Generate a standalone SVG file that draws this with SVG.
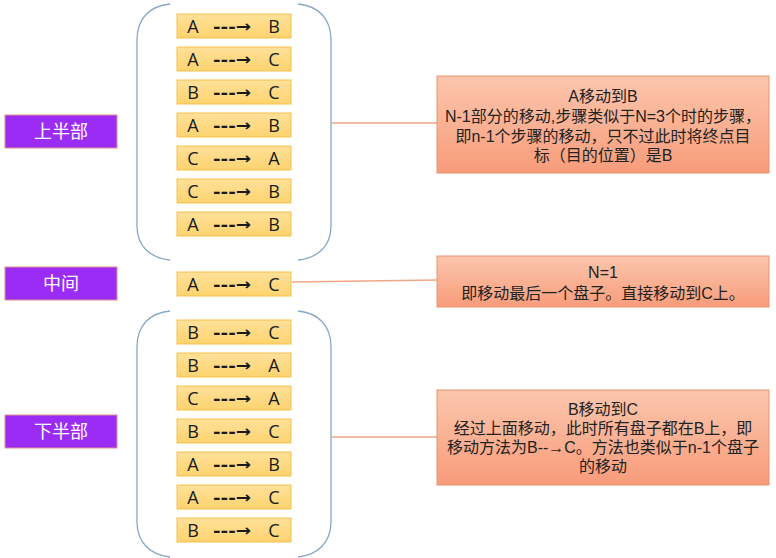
<svg xmlns="http://www.w3.org/2000/svg" width="776" height="558" viewBox="0 0 776 558">
<defs>
<linearGradient id="gY" x1="0" y1="0" x2="0" y2="1"><stop offset="0" stop-color="#ffe19a"/><stop offset="1" stop-color="#fdd36f"/></linearGradient>
<linearGradient id="gO" x1="0" y1="0" x2="0" y2="1"><stop offset="0" stop-color="#fcc6ad"/><stop offset="1" stop-color="#f79c7a"/></linearGradient>
</defs>
<style>
.step rect{fill:url(#gY);stroke:#f3c14c;stroke-width:1}
.step text{font-family:"Open Sans","Liberation Sans",sans-serif;font-size:18px;fill:#1a1a1a;text-anchor:middle}
.step text.ar{text-anchor:start;font-family:"DejaVu Sans",sans-serif;font-size:16px;font-weight:bold}
.lab rect{fill:#9b2cf6;stroke:#e0908a;stroke-width:1}
.lab text{font-family:"Noto Sans CJK SC",sans-serif;font-size:18px;fill:#fff;text-anchor:middle}
.note rect{fill:url(#gO);stroke:#e89470;stroke-width:1}
.note text{font-family:"Liberation Sans","Noto Sans CJK SC",sans-serif;font-size:16px;fill:#222;text-anchor:middle}
.br{fill:none;stroke:#8aa6c6;stroke-width:1.3}
.cn{fill:none;stroke:#efa686;stroke-width:1.5}
</style>

<g id="brackets">
<path class="br" d="M170,4 C150,6 137,18 137,40 L137,226 C137,246 150,258 170,260"/>
<path class="br" d="M298,4 C318,6 331,18 331,40 L331,226 C331,246 318,258 298,260"/>
<path class="br" d="M170,311 C150,313 137,325 137,347 L137,522 C137,542 150,555 170,557"/>
<path class="br" d="M298,311 C318,313 331,325 331,347 L331,522 C331,542 318,555 298,557"/>
</g>

<g id="connectors">
<line class="cn" x1="331" y1="123" x2="437" y2="123"/>
<line class="cn" x1="292" y1="282" x2="437" y2="280"/>
<line class="cn" x1="331" y1="437" x2="437" y2="437"/>
</g>

<g id="label-top" class="lab"><rect x="5" y="115" width="112" height="33"/><text x="61" y="138">上半部</text></g>
<g id="label-mid" class="lab"><rect x="5" y="267" width="112" height="33"/><text x="61" y="290">中间</text></g>
<g id="label-bot" class="lab"><rect x="5" y="415" width="112" height="33"/><text x="61" y="438">下半部</text></g>

<g id="top-steps">
<g id="s1" class="step"><rect x="177" y="14" width="114" height="24"/><text x="193" y="33">A</text><text class="ar" x="213" y="32" textLength="38" lengthAdjust="spacingAndGlyphs">---→</text><text x="274" y="33">B</text></g>
<g id="s2" class="step"><rect x="177" y="47" width="114" height="24"/><text x="193" y="66">A</text><text class="ar" x="213" y="65" textLength="38" lengthAdjust="spacingAndGlyphs">---→</text><text x="274" y="66">C</text></g>
<g id="s3" class="step"><rect x="177" y="80" width="114" height="24"/><text x="193" y="99">B</text><text class="ar" x="213" y="98" textLength="38" lengthAdjust="spacingAndGlyphs">---→</text><text x="274" y="99">C</text></g>
<g id="s4" class="step"><rect x="177" y="113" width="114" height="24"/><text x="193" y="132">A</text><text class="ar" x="213" y="131" textLength="38" lengthAdjust="spacingAndGlyphs">---→</text><text x="274" y="132">B</text></g>
<g id="s5" class="step"><rect x="177" y="146" width="114" height="24"/><text x="193" y="165">C</text><text class="ar" x="213" y="164" textLength="38" lengthAdjust="spacingAndGlyphs">---→</text><text x="274" y="165">A</text></g>
<g id="s6" class="step"><rect x="177" y="179" width="114" height="24"/><text x="193" y="198">C</text><text class="ar" x="213" y="197" textLength="38" lengthAdjust="spacingAndGlyphs">---→</text><text x="274" y="198">B</text></g>
<g id="s7" class="step"><rect x="177" y="212" width="114" height="24"/><text x="193" y="231">A</text><text class="ar" x="213" y="230" textLength="38" lengthAdjust="spacingAndGlyphs">---→</text><text x="274" y="231">B</text></g>
</g>

<g id="mid-step" class="step"><rect x="177" y="272" width="114" height="24"/><text x="193" y="291">A</text><text class="ar" x="213" y="290" textLength="38" lengthAdjust="spacingAndGlyphs">---→</text><text x="274" y="291">C</text></g>

<g id="bot-steps">
<g id="b1" class="step"><rect x="177" y="320" width="114" height="24"/><text x="193" y="339">B</text><text class="ar" x="213" y="338" textLength="38" lengthAdjust="spacingAndGlyphs">---→</text><text x="274" y="339">C</text></g>
<g id="b2" class="step"><rect x="177" y="353" width="114" height="24"/><text x="193" y="372">B</text><text class="ar" x="213" y="371" textLength="38" lengthAdjust="spacingAndGlyphs">---→</text><text x="274" y="372">A</text></g>
<g id="b3" class="step"><rect x="177" y="386" width="114" height="24"/><text x="193" y="405">C</text><text class="ar" x="213" y="404" textLength="38" lengthAdjust="spacingAndGlyphs">---→</text><text x="274" y="405">A</text></g>
<g id="b4" class="step"><rect x="177" y="419" width="114" height="24"/><text x="193" y="438">B</text><text class="ar" x="213" y="437" textLength="38" lengthAdjust="spacingAndGlyphs">---→</text><text x="274" y="438">C</text></g>
<g id="b5" class="step"><rect x="177" y="452" width="114" height="24"/><text x="193" y="471">A</text><text class="ar" x="213" y="470" textLength="38" lengthAdjust="spacingAndGlyphs">---→</text><text x="274" y="471">B</text></g>
<g id="b6" class="step"><rect x="177" y="485" width="114" height="24"/><text x="193" y="504">A</text><text class="ar" x="213" y="503" textLength="38" lengthAdjust="spacingAndGlyphs">---→</text><text x="274" y="504">C</text></g>
<g id="b7" class="step"><rect x="177" y="518" width="114" height="24"/><text x="193" y="537">B</text><text class="ar" x="213" y="536" textLength="38" lengthAdjust="spacingAndGlyphs">---→</text><text x="274" y="537">C</text></g>
</g>

<g id="note-top" class="note"><rect x="437" y="76" width="332" height="97"/>
<text x="603" y="102">A移动到B</text>
<text x="603" y="122">N-1部分的移动,步骤类似于N=3个时的步骤，</text>
<text x="603" y="142">即n-1个步骤的移动，只不过此时将终点目</text>
<text x="603" y="161">标（目的位置）是B</text>
</g>
<g id="note-mid" class="note"><rect x="437" y="256" width="332" height="51"/>
<text x="603" y="278">N=1</text>
<text x="603" y="299">即移动最后一个盘子。直接移动到C上。</text>
</g>
<g id="note-bot" class="note"><rect x="437" y="390" width="332" height="95"/>
<text x="603" y="415">B移动到C</text>
<text x="603" y="434">经过上面移动，此时所有盘子都在B上，即</text>
<text x="603" y="453">移动方法为B--→C。方法也类似于n-1个盘子</text>
<text x="603" y="472">的移动</text>
</g>
</svg>
